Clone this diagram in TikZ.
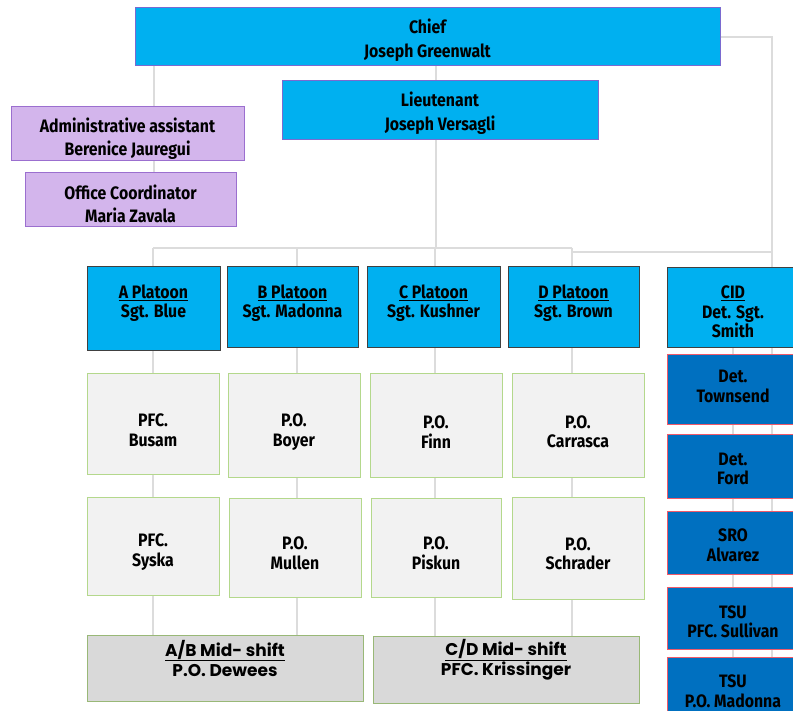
\documentclass[tikz,border=0pt]{standalone}
\usepackage{fontspec}
\setmainfont{Fira Sans}[FakeStretch=0.88]
\newfontfamily\midfont{Poppins}
\usetikzlibrary{backgrounds,calc}
\definecolor{cyanbox}{HTML}{00B0F0}
\definecolor{darkblue}{HTML}{0070C0}
\definecolor{purpfill}{HTML}{D3B5EC}
\definecolor{purpline}{HTML}{9B6FCF}
\definecolor{topline}{HTML}{7A6AD0}
\definecolor{greyfill}{HTML}{F2F2F2}
\definecolor{midfill}{HTML}{D9D9D9}
\definecolor{greenline}{HTML}{B4D88C}
\definecolor{redline}{HTML}{F05A6A}
\definecolor{connline}{HTML}{DCDCDC}
\tikzset{
  base/.style={inner sep=0pt},
  topbox/.style={base, fill=cyanbox, draw=topline, line width=1pt},
  purpbox/.style={base, fill=purpfill, draw=purpline, line width=1pt},
  platbox/.style={base, fill=cyanbox, draw=black!75, line width=1pt},
  cidbox/.style={base, fill=darkblue, draw=redline, line width=1pt},
  greybox/.style={base, fill=greyfill, draw=greenline, line width=1pt},
  midbox/.style={base, fill=midfill, draw=greenline!85!black, line width=1pt},
  txt/.style={inner sep=0pt, align=center, font=\bfseries\fontsize{18}{19.5}\selectfont},
  ttxt/.style={inner sep=0pt, align=center, font=\bfseries\fontsize{18}{24}\selectfont},
  ptxt/.style={inner sep=0pt, align=center, font=\bfseries\fontsize{18}{23}\selectfont},
  midtxt/.style={inner sep=0pt, align=center, font=\midfont\bfseries\fontsize{17}{20}\selectfont},
  conn/.style={draw=connline, line width=1.5pt}
}
% name, box style, left, top, right, bottom, text style, shift down, text
\newcommand{\bx}[9]{%
  \node[#2, minimum width={(#5-#3)*1pt}, minimum height={(#6-#4)*1pt}] (#1) at ({(#3+#5)/2},{(#4+#6)/2}) {};
  \node[#7] (#1-t) at ([yshift={-(#8)*1pt}]#1.center) {#9};}
\begin{document}
\begin{tikzpicture}[x=1pt,y=-1pt]
\useasboundingbox (0,0) rectangle (793,711);
\clip (0,0) rectangle (793,711);
% top
\bx{chief}{topbox}{135}{8}{720}{66}{ttxt}{3}{Chief\\Joseph Greenwalt}
\bx{lt}{topbox}{282}{81}{598}{140}{ttxt}{3}{Lieutenant\\Joseph Versagli}
\bx{adm}{purpbox}{11}{107}{244}{161}{ptxt}{5}{Administrative assistant\\Berenice Jauregui}
\bx{off}{purpbox}{25}{173}{236}{227}{ptxt}{3.5}{Office Coordinator\\Maria Zavala}
% platoons
\bx{pa}{platbox}{87}{267}{220}{351}{txt}{-6}{\underline{A Platoon}\\Sgt. Blue}
\bx{pb}{platbox}{227}{267}{358}{348}{txt}{-4.5}{\underline{B Platoon}\\Sgt. Madonna}
\bx{pc}{platbox}{367}{267}{500}{348}{txt}{-4.5}{\underline{C Platoon}\\Sgt. Kushner}
\bx{pd}{platbox}{508}{267}{639}{348}{txt}{-4.5}{\underline{D Platoon}\\Sgt. Brown}
\bx{cid}{platbox}{667}{268}{799}{348}{txt}{4}{\underline{CID}\\Det. Sgt.\\Smith}
% row 1
\bx{a1}{greybox}{87}{374}{219}{474}{txt}{6.5}{PFC.\\Busam}
\bx{b1}{greybox}{228}{374}{360}{477}{txt}{6.5}{P.O.\\Boyer}
\bx{c1}{greybox}{370}{374}{502}{477}{txt}{6.5}{P.O.\\Finn}
\bx{d1}{greybox}{512}{374}{644}{477}{txt}{6.5}{P.O.\\Carrasca}
% row 2
\bx{a2}{greybox}{87}{497}{219}{595}{txt}{6}{PFC.\\Syska}
\bx{b2}{greybox}{229}{498}{361}{597}{txt}{6}{P.O.\\Mullen}
\bx{c2}{greybox}{371}{498}{501}{597}{txt}{6}{P.O.\\Piskun}
\bx{d2}{greybox}{512}{497}{644}{599}{txt}{6}{P.O.\\Schrader}
% mid-shift
\bx{mab}{midbox}{87}{635}{363}{701}{midtxt}{-10}{\underline{A/B Mid- shift}\\P.O. Dewees}
\bx{mcd}{midbox}{373}{636}{639}{703}{midtxt}{-10}{\underline{C/D Mid- shift}\\PFC. Krissinger}
% CID column
\bx{t1}{cidbox}{667}{355}{799}{424}{txt}{-3}{Det.\\Townsend}
\bx{t2}{cidbox}{667}{434}{799}{498}{txt}{3}{Det.\\Ford}
\bx{t3}{cidbox}{667}{511}{799}{574}{txt}{3}{SRO\\Alvarez}
\bx{t4}{cidbox}{667}{587}{799}{649}{txt}{4}{TSU\\PFC. Sullivan}
\bx{t5}{cidbox}{667}{657}{799}{720}{txt}{3}{TSU\\P.O. Madonna}
% coordinates for connector columns
\coordinate (xL) at (154,0);
\coordinate (xM) at (436,0);
\coordinate (xA) at (153,0);
\coordinate (xB) at (297,0);
\coordinate (xC) at (435,0);
\coordinate (xD) at (572,0);
\coordinate (xK) at (733,0);
\coordinate (xR) at (772,0);
\coordinate (bus) at (0,248);
\coordinate (bus2) at (0,252);
\begin{pgfonlayer}{background}
\draw[conn] (chief.south -| xL) -- (off.north -| xL);
\draw[conn] (chief.south -| xM) -- (lt.north -| xM);
\draw[conn] (lt.south -| xM) -- (xM |- bus);
\draw[conn] (xA |- bus) -- (xD |- bus);
\draw[conn] (xD |- bus2) -- (xR |- bus2);
\draw[conn] (chief.east) -- (xR |- chief.east) -- (t5.north -| xR);
\draw[conn] (xA |- bus) -- (pa.north -| xA);
\draw[conn] (xB |- bus) -- (pb.north -| xB);
\draw[conn] (xC |- bus) -- (pc.north -| xC);
\draw[conn] (xD |- bus) -- (pd.north -| xD);
\draw[conn] (pa.south -| xA) -- (a1.north -| xA);
\draw[conn] (pb.south -| xB) -- (b1.north -| xB);
\draw[conn] (pc.south -| xC) -- (c1.north -| xC);
\draw[conn] (pd.south -| xD) -- (d1.north -| xD);
\draw[conn] (a1.south -| xA) -- (a2.north -| xA);
\draw[conn] (b1.south -| xB) -- (b2.north -| xB);
\draw[conn] (c1.south -| xC) -- (c2.north -| xC);
\draw[conn] (d1.south -| xD) -- (d2.north -| xD);
\draw[conn] (a2.south -| xA) -- (mab.north -| xA);
\draw[conn] (b2.south -| xB) -- (mab.north -| xB);
\draw[conn] (c2.south -| xC) -- (mcd.north -| xC);
\draw[conn] (d2.south -| xD) -- (mcd.north -| xD);
\draw[conn] (cid.south -| xK) -- (t5.north -| xK);
\end{pgfonlayer}
\end{tikzpicture}
\end{document}
